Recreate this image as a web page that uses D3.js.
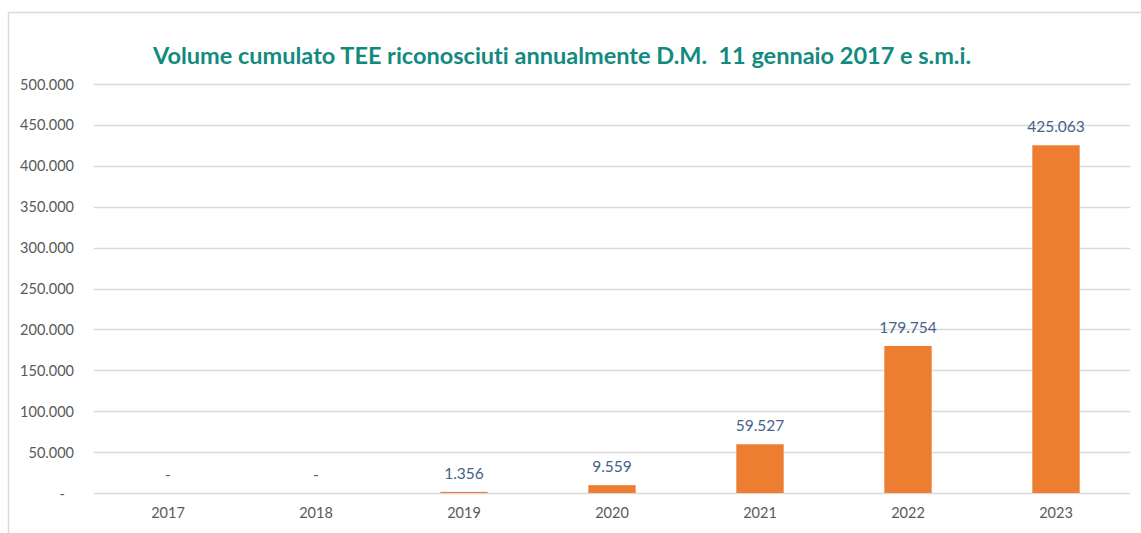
<!DOCTYPE html>
<html><head><meta charset="utf-8">
<script src="https://cdn.jsdelivr.net/npm/d3@7"></script>
<style>
html,body{margin:0;padding:0;background:#fff;}
svg{display:block;}
text{font-variant-ligatures:none;}
</style>
</head><body>
<svg id="c" width="1141" height="533"></svg>
<script>
const title = "Volume cumulato TEE riconosciuti annualmente D.M.  11 gennaio 2017 e s.m.i.";
const years = ["2017","2018","2019","2020","2021","2022","2023"];
const values = [0, 0, 1356, 9559, 59527, 179754, 425063];
const yTicks = [0, 50000, 100000, 150000, 200000, 250000, 300000, 350000, 400000, 450000, 500000];

const svg = d3.select("#c");
const W = 1141, H = 533;
const loc = d3.formatLocale({decimal: ",", thousands: ".", grouping: [3], currency: ["€",""]});
const fmt = v => v === 0 ? "-" : loc.format(",")(v);

// outer frame
svg.append("path").attr("d", `M8.5,${H} V12.5 H${W}`).attr("fill","none").attr("stroke","#d9d9d9").attr("stroke-width",1.5);

const x = d3.scaleBand().domain(years).range([94, 1130]).paddingInner(0.68).paddingOuter(0.34);
const y = d3.scaleLinear().domain([0, 500000]).range([493, 84]);

// gridlines
svg.append("g").selectAll("line").data(yTicks).join("line")
  .attr("x1", 94).attr("x2", 1130)
  .attr("y1", d => Math.round(y(d)) + 0.5).attr("y2", d => Math.round(y(d)) + 0.5)
  .attr("stroke", "#d9d9d9").attr("stroke-width", 1.5);

// y axis labels
const yAxis = d3.axisLeft(y).tickValues(yTicks).tickFormat(fmt).tickSize(0).tickPadding(0);
const gy = svg.append("g").attr("transform", "translate(74,0)").call(yAxis);
gy.select(".domain").remove();
gy.selectAll("text").attr("font-family","Lato, 'Open Sans', sans-serif").attr("font-size", 14.5)
  .attr("fill", "#595959").attr("dy", "0.35em");
gy.selectAll(".tick").filter(d => d === 0).select("text").attr("dx", -9);

// x axis labels
const xAxis = d3.axisBottom(x).tickSize(0).tickPadding(0);
const gx = svg.append("g").attr("transform", "translate(0,508)").call(xAxis);
gx.select(".domain").remove();
gx.selectAll("text").attr("font-family","Lato, 'Open Sans', sans-serif").attr("font-size", 14.5)
  .attr("fill", "#595959").attr("dy", "0.72em");

// bars
svg.append("g").selectAll("rect").data(values.map((v,i)=>({v, yr: years[i]}))).join("rect")
  .attr("x", d => x(d.yr)).attr("width", x.bandwidth())
  .attr("y", d => y(d.v)).attr("height", d => y(0) - y(d.v))
  .attr("fill", "#ED7D31");

// data labels
svg.append("g").selectAll("text").data(values.map((v,i)=>({v, yr: years[i]}))).join("text")
  .attr("x", d => x(d.yr) + x.bandwidth()/2)
  .attr("y", d => y(d.v) - 13)
  .attr("text-anchor", "middle")
  .attr("font-family","Lato, 'Open Sans', sans-serif").attr("font-size", 15.5)
  .attr("fill", "#44628A")
  .text(d => fmt(d.v));

// title
svg.append("text").attr("x", 562).attr("y", 64).attr("text-anchor","middle")
  .attr("font-family","Lato, 'Open Sans', sans-serif").attr("font-weight","bold").attr("font-size", 23.5)
  .attr("fill", "#138A80").style("white-space","pre")
  .text(title);
</script>
</body></html>
